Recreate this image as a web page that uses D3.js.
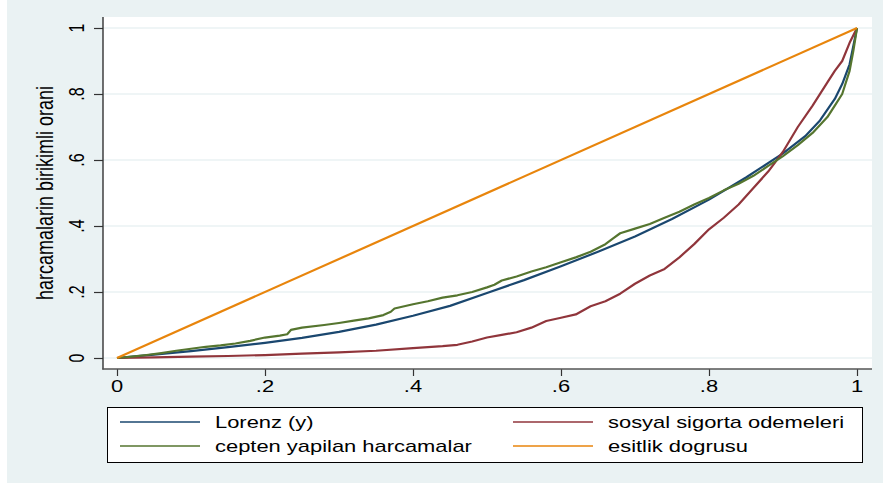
<!DOCTYPE html>
<html>
<head>
<meta charset="utf-8">
<script src="https://cdn.jsdelivr.net/npm/d3@7"></script>
<style>
  html, body { margin: 0; padding: 0; background: #ffffff; }
  svg text { font-family: "Liberation Sans", Arial, Helvetica, sans-serif; fill: #000; }
</style>
</head>
<body>
<svg id="chart" width="883" height="486"></svg>
<script>
// Cumulative population share (x) and cumulative expenditure share (y)
const tickValues = [0, 0.2, 0.4, 0.6, 0.8, 1];
const tickLabels = ["0", ".2", ".4", ".6", ".8", "1"];

const seriesNames = ["Lorenz (y)", "sosyal sigorta odemeleri", "cepten yapilan harcamalar", "esitlik dogrusu"];
const seriesColors = ["#1a476f", "#90353b", "#55752f", "#e8850c"];

const lorenzX = [0, 0.05, 0.1, 0.15, 0.2, 0.25, 0.3, 0.35, 0.4, 0.45, 0.5, 0.55, 0.6, 0.65, 0.7, 0.75, 0.8, 0.85, 0.9, 0.93, 0.95, 0.97, 0.98, 0.99, 1];
const lorenzY = [0, 0.01, 0.021, 0.033, 0.046, 0.061, 0.079, 0.101, 0.128, 0.158, 0.197, 0.236, 0.278, 0.322, 0.368, 0.421, 0.48, 0.547, 0.62, 0.672, 0.72, 0.785, 0.83, 0.89, 1];

const sosyalX = [0, 0.05, 0.1, 0.15, 0.2, 0.25, 0.3, 0.35, 0.4, 0.44, 0.46, 0.48, 0.5, 0.52, 0.54, 0.56, 0.58, 0.6, 0.62, 0.64, 0.66, 0.68, 0.7, 0.72, 0.74, 0.76, 0.78, 0.8, 0.82, 0.84, 0.86, 0.88, 0.9, 0.92, 0.94, 0.96, 0.97, 0.98, 0.99, 1];
const sosyalY = [0, 0.002, 0.004, 0.006, 0.009, 0.013, 0.017, 0.022, 0.03, 0.036, 0.04, 0.05, 0.062, 0.07, 0.078, 0.092, 0.112, 0.122, 0.132, 0.157, 0.172, 0.195, 0.225, 0.25, 0.27, 0.305, 0.345, 0.39, 0.425, 0.465, 0.515, 0.565, 0.625, 0.7, 0.765, 0.835, 0.87, 0.9, 0.955, 1];

const ceptenX = [0, 0.02, 0.04, 0.06, 0.08, 0.1, 0.12, 0.14, 0.16, 0.18, 0.2, 0.22, 0.23, 0.235, 0.25, 0.28, 0.3, 0.32, 0.34, 0.36, 0.37, 0.375, 0.4, 0.42, 0.44, 0.46, 0.48, 0.5, 0.51, 0.52, 0.54, 0.56, 0.58, 0.6, 0.62, 0.64, 0.66, 0.67, 0.68, 0.7, 0.72, 0.74, 0.76, 0.78, 0.8, 0.82, 0.84, 0.86, 0.88, 0.9, 0.92, 0.94, 0.96, 0.97, 0.98, 0.99, 0.995, 1];
const ceptenY = [0, 0.004, 0.009, 0.015, 0.022, 0.028, 0.034, 0.038, 0.044, 0.052, 0.062, 0.068, 0.072, 0.085, 0.092, 0.1, 0.106, 0.113, 0.12, 0.13, 0.14, 0.15, 0.163, 0.172, 0.183, 0.19, 0.2, 0.214, 0.222, 0.235, 0.247, 0.262, 0.275, 0.29, 0.305, 0.322, 0.345, 0.362, 0.378, 0.392, 0.406, 0.425, 0.443, 0.465, 0.485, 0.508, 0.528, 0.552, 0.582, 0.612, 0.645, 0.682, 0.73, 0.765, 0.8, 0.87, 0.93, 1];

const equalityX = [0, 1];
const equalityY = [0, 1];

const svg = d3.select("#chart");
const sx = 1.37; // horizontal glyph stretch used for all labels

// Graph region and plot region
svg.append("rect").attr("x", 7).attr("y", 0).attr("width", 876).attr("height", 483).attr("fill", "#eaf2f3");
svg.append("rect").attr("x", 103).attr("y", 17).attr("width", 769).attr("height", 352).attr("fill", "#ffffff");

const x = d3.scaleLinear().domain([0, 1]).range([117, 857]);
const y = d3.scaleLinear().domain([0, 1]).range([358, 28]);

// Horizontal grid lines
svg.append("g").selectAll("line").data(tickValues).join("line")
  .attr("x1", 103).attr("x2", 872)
  .attr("y1", d => y(d)).attr("y2", d => y(d))
  .attr("stroke", "#eaf2f3").attr("stroke-width", 1.3);

// Axes: tick marks from d3 axes, labels drawn separately
const yAxis = svg.append("g").attr("transform", "translate(103,0)")
  .call(d3.axisLeft(y).tickValues(tickValues).tickSize(9).tickFormat(""));
const xAxis = svg.append("g").attr("transform", "translate(0,369)")
  .call(d3.axisBottom(x).tickValues(tickValues).tickSize(7).tickFormat(""));
[yAxis, xAxis].forEach(g => {
  g.select(".domain").remove();
  g.selectAll(".tick line").attr("stroke", "#333").attr("stroke-width", 1.2);
});
svg.append("line").attr("x1", 103).attr("x2", 103).attr("y1", 17).attr("y2", 369.5)
  .attr("stroke", "#333").attr("stroke-width", 1.4);
svg.append("line").attr("x1", 102.3).attr("x2", 872).attr("y1", 369).attr("y2", 369)
  .attr("stroke", "#555").attr("stroke-width", 1.4);

// Tick labels
svg.append("g").selectAll("text").data(tickValues).join("text")
  .attr("transform", d => `translate(${x(d)},392) scale(${sx},1)`)
  .attr("text-anchor", "middle").attr("font-size", 16)
  .text((d, i) => tickLabels[i]);
svg.append("g").selectAll("text").data(tickValues).join("text")
  .attr("transform", d => `translate(84,${y(d)}) scale(${sx},1) rotate(-90)`)
  .attr("text-anchor", "middle").attr("font-size", 16)
  .text((d, i) => tickLabels[i]);

// Y axis title
svg.append("text")
  .attr("transform", `translate(53,193) scale(1.3,1) rotate(-90)`)
  .attr("text-anchor", "middle").attr("font-size", 18)
  .text("harcamalarin birikimli orani");

// Curves
const line = d3.line().x(d => x(d[0])).y(d => y(d[1])).curve(d3.curveLinear);
const series = [
  d3.zip(lorenzX, lorenzY),
  d3.zip(sosyalX, sosyalY),
  d3.zip(ceptenX, ceptenY),
  d3.zip(equalityX, equalityY)
];
svg.append("g").selectAll("path").data(series).join("path")
  .attr("d", line)
  .attr("fill", "none")
  .attr("stroke", (d, i) => seriesColors[i])
  .attr("stroke-width", 2.2)
  .attr("stroke-linejoin", "round");

// Legend (two columns, filled row by row)
const legend = svg.append("g");
legend.append("rect").attr("x", 107.5).attr("y", 407.5).attr("width", 755).attr("height", 55)
  .attr("fill", "#ffffff").attr("stroke", "#000").attr("stroke-width", 1);
const colX = [120, 513];
const rowY = [422, 446];
seriesNames.forEach((name, i) => {
  const c = i % 2, r = Math.floor(i / 2);
  legend.append("line")
    .attr("x1", colX[c]).attr("x2", colX[c] + 80)
    .attr("y1", rowY[r]).attr("y2", rowY[r])
    .attr("stroke", seriesColors[i]).attr("stroke-width", 1.4);
  legend.append("text")
    .attr("transform", `translate(${colX[c] + 95},${rowY[r] + 6}) scale(${sx},1)`)
    .attr("font-size", 16)
    .text(name);
});
</script>
</body>
</html>
